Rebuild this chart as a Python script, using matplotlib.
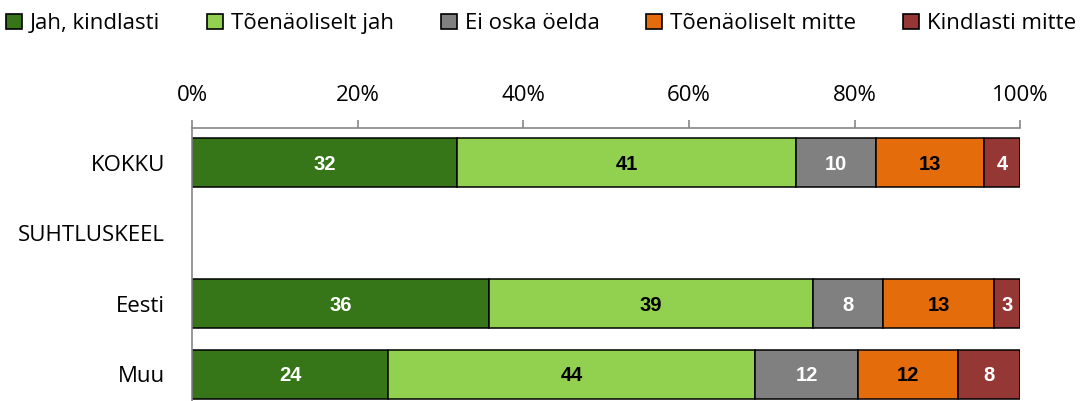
import matplotlib
matplotlib.use("Agg")
import matplotlib.pyplot as plt
from matplotlib.patches import Patch

categories = ["KOKKU", "SUHTLUSKEEL", "Eesti", "Muu"]
series_names = ["Jah, kindlasti", "Tõenäoliselt jah", "Ei oska öelda",
                "Tõenäoliselt mitte", "Kindlasti mitte"]
# values per series for each category (None = empty row)
jah_kindlasti = [32.0, None, 35.8, 23.7]
toenaoliselt_jah = [40.9, None, 39.2, 44.3]
ei_oska = [9.7, None, 8.4, 12.4]
toenaoliselt_mitte = [13.0, None, 13.4, 12.0]
kindlasti_mitte = [4.4, None, 3.2, 7.6]
series_values = [jah_kindlasti, toenaoliselt_jah, ei_oska, toenaoliselt_mitte, kindlasti_mitte]
colors = ["#377618", "#92D050", "#808080", "#E46C0A", "#953735"]
label_colors = ["white", "black", "white", "black", "white"]
xticks = [0, 20, 40, 60, 80, 100]
xtick_labels = ["0%", "20%", "40%", "60%", "80%", "100%"]

plt.rcParams['font.family'] = ['Open Sans', 'DejaVu Sans']
FS = 16

W, H = 1081, 401
fig = plt.figure(figsize=(W / 100, H / 100), dpi=100)
left, right, top, bottom = 192, 1020.5, 127.5, 401
ax = fig.add_axes([left / W, 1 - bottom / H, (right - left) / W, (bottom - top) / H])

slot = 70.5
ax.set_ylim(-0.5 + (bottom - top) / slot, -0.5)
ax.set_xlim(0, 100)
bar_h = 49 / slot

ypos = list(range(len(categories)))
for si, vals in enumerate(series_values):
    for ci, v in enumerate(vals):
        if v is None:
            continue
        start = sum(series_values[k][ci] for k in range(si))
        total = sum(series_values[k][ci] for k in range(len(series_values)))
        s = start / total * 100
        w = v / total * 100
        ax.barh(ypos[ci], w, left=s, height=bar_h, color=colors[si],
                edgecolor="black", linewidth=1.1)
        ax.text(s + w / 2, ypos[ci] + 0.02, f"{v:.0f}", ha="center", va="center",
                color=label_colors[si], fontsize=14.5, fontweight="bold",
                family=["Liberation Sans", "DejaVu Sans"])

ax.set_yticks(ypos)
ax.set_yticklabels(categories, fontsize=FS)
ax.tick_params(axis="y", length=0, pad=19.4)

ax.xaxis.tick_top()
ax.set_xticks(xticks)
ax.set_xticklabels(xtick_labels, fontsize=FS)
ax.tick_params(axis="x", direction="out", length=5.8, color="#868686", width=1.2, pad=10)

for sp in ["right", "bottom"]:
    ax.spines[sp].set_visible(False)
for sp in ["left", "top"]:
    ax.spines[sp].set_color("#868686")
    ax.spines[sp].set_linewidth(1.2)

handles = [Patch(facecolor=c, edgecolor="black", linewidth=1.2) for c in colors]
fig.legend(handles, series_names, loc="upper left",
           bbox_to_anchor=(4 / W, 1 - 49 / H, (1078 - 4) / W, 38 / H), mode="expand",
           ncol=5, frameon=False, fontsize=FS, handlelength=0.72, handleheight=0.72,
           handletextpad=0.35, columnspacing=0.5, borderaxespad=0.0, borderpad=0.1)

fig.savefig("out.png", dpi=100)
